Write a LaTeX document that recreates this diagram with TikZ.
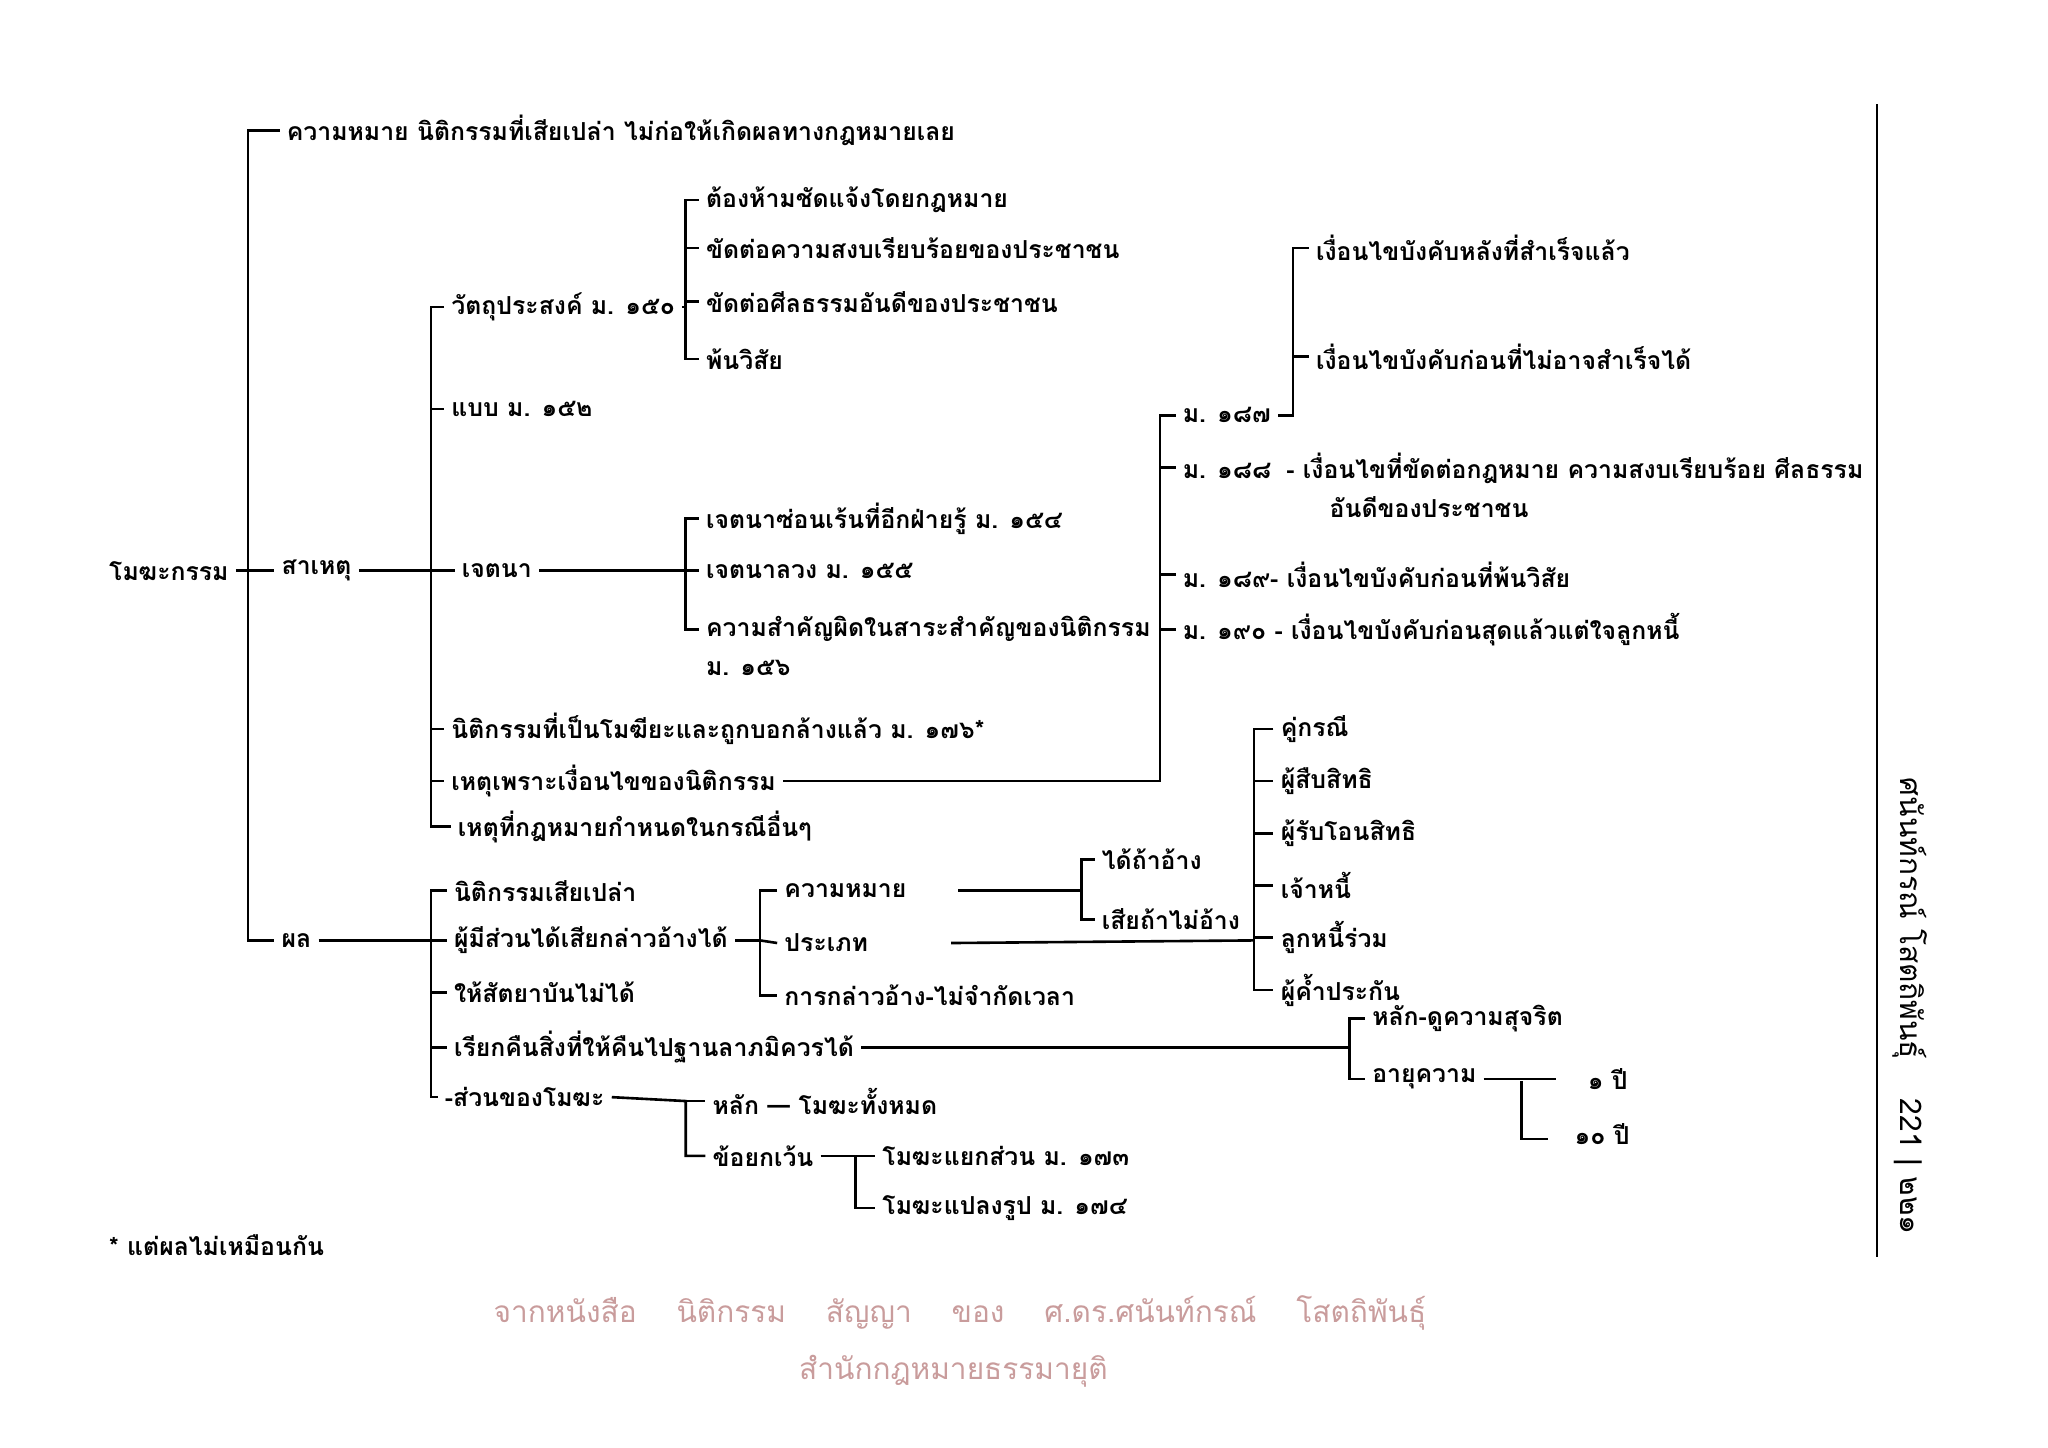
\documentclass[tikz,border=0pt]{standalone}
\usepackage{fontspec}
\setmainfont[Script=Thai]{Loma}
\usetikzlibrary{positioning, calc}
\begin{document}
\begin{tikzpicture}[x=0.02cm, y=-0.02cm,
    every node/.style={font=\fontsize{10.8}{17}\selectfont\bfseries, inner sep=1pt, inner xsep=3pt},
    item/.style={anchor=west},
    twoline/.style={anchor=north west, align=left},
    branch/.style={line width=0.4mm},
    stamp/.style={font=\fontsize{13}{15}\selectfont, text=red!30!gray!60, anchor=center}
  ]
  \useasboundingbox (0,0) rectangle (1568,1108);

  % root and first level
  \node[item] (root) at (78,437) {โมฆะกรรม};
  \node[item] (mean) at (214,100) {ความหมาย นิติกรรมที่เสียเปล่า ไม่ก่อให้เกิดผลทางกฎหมายเลย};
  \node[item] (cause) at (210,437) {สาเหตุ};
  \node[item] (res) at (210,720) {ผล};
  \coordinate (j0) at (190,437);
  \draw[branch] (root.east) -- (j0);
  \draw[branch] (mean.west) -| (j0) |- (res.west);
  \draw[branch] (j0) -- (cause.west);

  % causes
  \node[item] (obj) at (340,235) {วัตถุประสงค์ ม. ๑๕๐};
  \node[item] (form) at (340,313) {แบบ ม. ๑๕๒};
  \node[item] (will) at (348,437) {เจตนา};
  \node[item] (void) at (340,558) {นิติกรรมที่เป็นโมฆียะและถูกบอกล้างแล้ว ม. ๑๗๖*};
  \node[item] (cond) at (340,598) {เหตุเพราะเงื่อนไขของนิติกรรม};
  \node[item] (other) at (345,633) {เหตุที่กฎหมายกำหนดในกรณีอื่นๆ};
  \coordinate (j1) at (330,437);
  \draw[branch] (cause.east) -- (j1);
  \draw[branch] (obj.west) -| (j1) |- (other.west);
  \foreach \n in {form,void,cond} \draw[branch] (j1 |- \n.west) -- (\n.west);
  \draw[branch] (j1) -- (will.west);

  % objects
  \node[item] (o1) at (535,153) {ต้องห้ามชัดแจ้งโดยกฎหมาย};
  \node[item] (o2) at (535,190) {ขัดต่อความสงบเรียบร้อยของประชาชน};
  \node[item] (o3) at (535,231) {ขัดต่อศีลธรรมอันดีของประชาชน};
  \node[item] (o4) at (535,275) {พ้นวิสัย};
  \coordinate (j2) at (525,235);
  \draw[branch] (obj.east) -- (j2);
  \draw[branch] (o1.west) -| (j2) |- (o4.west);
  \foreach \n in {o2,o3} \draw[branch] (j2 |- \n.west) -- (\n.west);

  % intention
  \node[item] (w1) at (535,397) {เจตนาซ่อนเร้นที่อีกฝ่ายรู้ ม. ๑๕๔};
  \node[item] (w2) at (535,437) {เจตนาลวง ม. ๑๕๕};
  \node[twoline] (w3) at (535,470) {ความสำคัญผิดในสาระสำคัญของนิติกรรม\\ม. ๑๕๖};
  \coordinate (j3) at (525,437);
  \draw[branch] (will.east) -- (w2.west);
  \draw[branch] (w1.west) -| (j3) |- ($(w3.north west)+(0,12)$);

  % conditions
  \node[item] (c1) at (900,318) {ม. ๑๘๗};
  \node[twoline] (c2) at (900,345) {ม. ๑๘๘ \;- เงื่อนไขที่ขัดต่อกฎหมาย ความสงบเรียบร้อย ศีลธรรม\\\hspace*{64pt}อันดีของประชาชน};
  \node[item] (c3) at (900,440) {ม. ๑๘๙- เงื่อนไขบังคับก่อนที่พ้นวิสัย};
  \node[item] (c4) at (900,482) {ม. ๑๙๐ - เงื่อนไขบังคับก่อนสุดแล้วแต่ใจลูกหนี้};
  \coordinate (j4) at (888,598);
  \draw[branch] (cond.east) -- (j4) |- (c1.west);
  \draw[branch] (j4 |- c2.north west) ++(0,13) -- ($(c2.north west)+(0,13)$);
  \foreach \n in {c3,c4} \draw[branch] (j4 |- \n.west) -- (\n.west);
  \node[item] (c11) at (1002,190) {เงื่อนไขบังคับหลังที่สำเร็จแล้ว};
  \node[item] (c12) at (1002,273) {เงื่อนไขบังคับก่อนที่ไม่อาจสำเร็จได้};
  \coordinate (j5) at (990,318);
  \draw[branch] (c1.east) -- (j5) |- (c11.west);
  \draw[branch] (j5 |- c12.west) -- (c12.west);

  % results
  \node[item] (r1) at (342,682) {นิติกรรมเสียเปล่า};
  \node[item] (r2) at (342,720) {ผู้มีส่วนได้เสียกล่าวอ้างได้};
  \node[item] (r3) at (342,760) {ให้สัตยาบันไม่ได้};
  \node[item] (r4) at (342,802) {เรียกคืนสิ่งที่ให้คืนไปฐานลาภมิควรได้};
  \node[item] (r5) at (335,840) {-ส่วนของโมฆะ};
  \coordinate (j6) at (330,720);
  \draw[branch] (res.east) -- (r2.west);
  \draw[branch] (r1.west) -| (j6) |- (r5.west);
  \foreach \n in {r3,r4} \draw[branch] (j6 |- \n.west) -- (\n.west);

  % claimant
  \node[item] (p1) at (595,682) {ความหมาย};
  \node[item] (p2) at (595,722) {ประเภท};
  \node[item] (p3) at (595,762) {การกล่าวอ้าง-ไม่จำกัดเวลา};
  \coordinate (j7) at (582,720);
  \draw[branch] (r2.east) -- (j7);
  \draw[branch] (p1.west) -| (j7) |- (p3.west);
  \draw[branch] (j7) -- (p2.west);
  \node[item] (m1) at (838,658) {ได้ถ้าอ้าง};
  \node[item] (m2) at (838,704) {เสียถ้าไม่อ้าง};
  \coordinate (j8) at (828,682);
  \draw[branch] ($(p1.east)+(34,0)$) -- (j8);
  \draw[branch] (m1.west) -| (j8) |- (m2.west);
  \node[item] (t1) at (975,558) {คู่กรณี};
  \node[item] (t2) at (975,598) {ผู้สืบสิทธิ};
  \node[item] (t3) at (975,638) {ผู้รับโอนสิทธิ};
  \node[item] (t4) at (975,678) {เจ้าหนี้};
  \node[item] (t5) at (975,718) {ลูกหนี้ร่วม};
  \node[item] (t6) at (975,758) {ผู้ค้ำประกัน};
  \coordinate (j9) at (960,720);
  \draw[branch] ($(p2.east)+(58,0)$) -- (j9);
  \draw[branch] (t1.west) -| (j9) |- (t6.west);
  \foreach \n in {t2,t3,t4,t5} \draw[branch] (j9 |- \n.west) -- (\n.west);

  % unjust enrichment
  \node[item] (u1) at (1045,780) {หลัก-ดูความสุจริต};
  \node[item] (u2) at (1045,826) {อายุความ};
  \coordinate (j10) at (1033,802);
  \draw[branch] (r4.east) -- (j10);
  \draw[branch] (u1.west) -| (j10) |- (u2.west);
  \node[item] (y1) at (1210,826) {๑ ปี};
  \node[item] (y2) at (1200,868) {๑๐ ปี};
  \coordinate (j11) at (1165,828);
  \draw[branch] (u2.east) -- ++(55,0) coordinate (e1);
  \draw[branch] (j11) |- ++(20,44) coordinate (e2);

  % partial
  \node[item] (s1) at (540,843) {หลัก — โมฆะทั้งหมด};
  \node[item] (s2) at (540,885) {ข้อยกเว้น};
  \coordinate (j12) at (525,843);
  \draw[branch] (r5.east) -- (j12) |- (s2.west);
  \draw[branch] (j12) -- (s1.west);
  \node[item] (x1) at (670,885) {โมฆะแยกส่วน ม. ๑๗๓};
  \node[item] (x2) at (670,925) {โมฆะแปลงรูป ม. ๑๗๔};
  \coordinate (j13) at (655,885);
  \draw[branch] (s2.east) -- (x1.west);
  \draw[branch] (j13) |- (x2.west);

  % footnote, margin and watermark
  \node[item] (foot) at (78,953) {* แต่ผลไม่เหมือนกัน};
  \coordinate (m0) at (1437,80);
  \coordinate (m9) at (1437,962);
  \draw[line width=0.4mm] (m0) -- (m9);
  \node[anchor=west, rotate=-90, font=\fontsize{13}{15}\selectfont] (side) at (1462,590) {ศนันท์กรณ์ โสตถิพันธุ์ \quad 221 | ๒๒๑};
  \node[stamp] (wm1) at (735,1005) {จากหนังสือ \quad นิติกรรม \quad สัญญา \quad ของ \quad ศ.ดร.ศนันท์กรณ์ \quad โสตถิพันธุ์};
  \node[stamp] (wm2) at (730,1050) {สำนักกฎหมายธรรมายุติ};
\end{tikzpicture}
\end{document}
